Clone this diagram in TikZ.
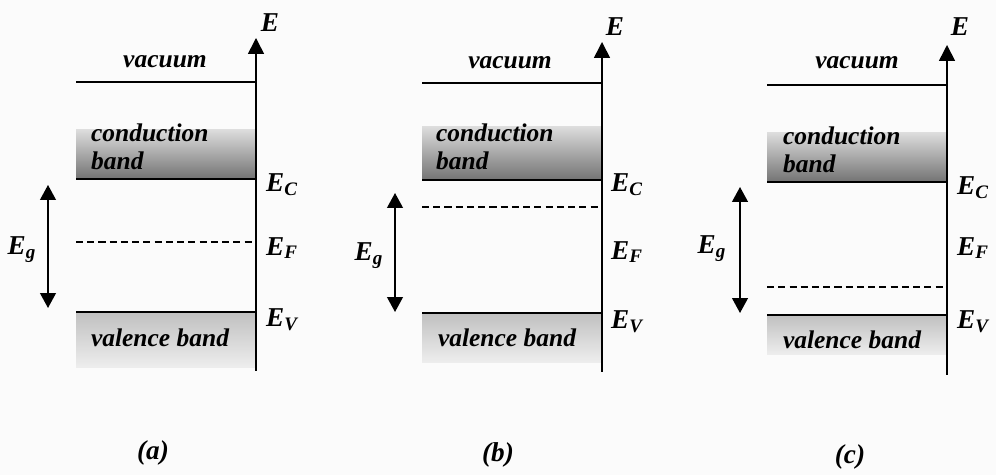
\documentclass[tikz,border=0pt]{standalone}
\usepackage{amsmath}
\usepackage{fontspec}
\setmainfont{Liberation Serif}
\usetikzlibrary{arrows.meta}
\definecolor{bandgray}{gray}{0.45}
\definecolor{paper}{gray}{0.985}

\begin{document}
\begin{tikzpicture}[
    x=0.02cm, y=-0.02cm,
    lbl/.style={font=\fontsize{14.5}{16}\selectfont\bfseries\itshape,
                inner sep=1pt},
    elbl/.style={font=\fontsize{15.5}{17}\selectfont\bfseries\itshape,
                 inner sep=1pt},
    level/.style={line width=0.95pt},
    fermi/.style={line width=0.85pt, dash pattern=on 4pt off 2.4pt},
    axis/.style={line width=0.9pt, -{Triangle[length=9pt, width=9pt]}},
    gap/.style={line width=0.9pt,
                {Triangle[length=8.5pt, width=9pt]}-{Triangle[length=8.5pt, width=9pt]}},
    cband/.style={top color=bandgray!25, bottom color=bandgray},
    vband/.style={top color=bandgray!45, bottom color=bandgray!12}
  ]
    \fill[paper] (0,0) rectangle (996,475);
    \useasboundingbox (0,0) rectangle (996,475);

    \shade[cband] (76,130) rectangle (256,179);
    \shade[vband] (76,312) rectangle (256,368);
    \draw[level] (76,82) -- (256,82);
    \draw[level] (76,179) -- (256,179);
    \draw[fermi] (76,242) -- (256,242);
    \draw[level] (76,312) -- (256,312);
    \coordinate (botA) at (256,371);
    \coordinate (topA) at (256,38);
    \draw[axis] (botA) -- (topA);
    \coordinate (gtA) at (48,185);
    \coordinate (gbA) at (48,308);
    \draw[gap] (gtA) -- (gbA);
    \node[lbl] (vacA) at (165,62) {vacuum};
    \node[lbl, anchor=west, align=left] (cbA) at (89,147) {conduction\\band};
    \node[lbl] (vbA) at (160,338) {valence band};
    \node[elbl] (EA) at (270,23) {E};
    \node[elbl, anchor=west] (ECA) at (264,185) {E$_{\text{C}}$};
    \node[elbl, anchor=west] (EFA) at (264,248) {E$_{\text{F}}$};
    \node[elbl, anchor=west] (EVA) at (264,320) {E$_{\text{V}}$};
    \node[elbl] (EgA) at (22,250) {E$_{\text{g}}$};
    \node[elbl] (capA) at (153,453) {(a)};

    \shade[cband] (422,127) rectangle (602,180);
    \shade[vband] (422,313) rectangle (602,363);
    \draw[level] (422,83) -- (602,83);
    \draw[level] (422,180) -- (602,180);
    \draw[fermi] (422,207) -- (602,207);
    \draw[level] (422,313) -- (602,313);
    \coordinate (botB) at (602,372);
    \coordinate (topB) at (602,42);
    \draw[axis] (botB) -- (topB);
    \coordinate (gtB) at (395,193);
    \coordinate (gbB) at (395,312);
    \draw[gap] (gtB) -- (gbB);
    \node[lbl] (vacB) at (510,63) {vacuum};
    \node[lbl, anchor=west, align=left] (cbB) at (434,147) {conduction\\band};
    \node[lbl] (vbB) at (507,338) {valence band};
    \node[elbl] (EB) at (615,27) {E};
    \node[elbl, anchor=west] (ECB) at (609,185) {E$_{\text{C}}$};
    \node[elbl, anchor=west] (EFB) at (609,252) {E$_{\text{F}}$};
    \node[elbl, anchor=west] (EVB) at (609,322) {E$_{\text{V}}$};
    \node[elbl] (EgB) at (369,256) {E$_{\text{g}}$};
    \node[elbl] (capB) at (498,455) {(b)};

    \shade[cband] (767,133) rectangle (947,182);
    \shade[vband] (767,315) rectangle (947,355);
    \draw[level] (767,85) -- (947,85);
    \draw[level] (767,182) -- (947,182);
    \draw[fermi] (767,287) -- (947,287);
    \draw[level] (767,315) -- (947,315);
    \coordinate (botC) at (947,375);
    \coordinate (topC) at (947,45);
    \draw[axis] (botC) -- (topC);
    \coordinate (gtC) at (740,187);
    \coordinate (gbC) at (740,313);
    \draw[gap] (gtC) -- (gbC);
    \node[lbl] (vacC) at (857,63) {vacuum};
    \node[lbl, anchor=west, align=left] (cbC) at (781,150) {conduction\\band};
    \node[lbl] (vbC) at (852,340) {valence band};
    \node[elbl] (EC) at (960,27) {E};
    \node[elbl, anchor=west] (ECC) at (955,188) {E$_{\text{C}}$};
    \node[elbl, anchor=west] (EFC) at (955,248) {E$_{\text{F}}$};
    \node[elbl, anchor=west] (EVC) at (955,322) {E$_{\text{V}}$};
    \node[elbl] (EgC) at (712,249) {E$_{\text{g}}$};
    \node[elbl] (capC) at (850,457) {(c)};
  \end{tikzpicture}
\end{document}
